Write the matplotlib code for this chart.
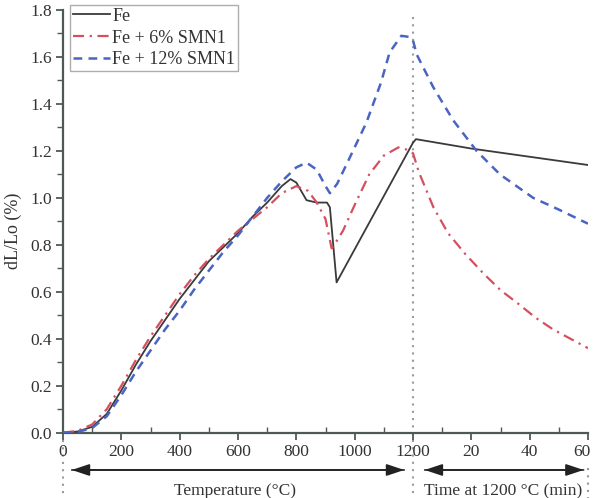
import matplotlib
matplotlib.use("Agg")
import matplotlib.pyplot as plt
import matplotlib.transforms as mtransforms
from matplotlib.ticker import MultipleLocator

plt.rcParams['font.family'] = ['Liberation Serif', 'DejaVu Serif']

# Composite x: temperature (°C) 0..1200, then time at 1200 °C (min) mapped as 1200 + 10*t
fe_temp = [0, 50, 100, 150, 200, 250, 300, 350, 400, 450, 500, 550, 600, 650, 700, 750, 780, 800, 835, 870, 905, 915, 938, 1200]
fe_temp_y = [0, 0.005, 0.025, 0.08, 0.18, 0.29, 0.39, 0.48, 0.57, 0.65, 0.73, 0.79, 0.85, 0.92, 0.98, 1.05, 1.08, 1.065, 0.99, 0.98, 0.98, 0.96, 0.64, 1.235]
fe_time = [1, 20, 40, 60]
fe_time_y = [1.25, 1.21, 1.175, 1.14]

s6_temp = [0, 50, 100, 150, 200, 250, 300, 350, 400, 450, 500, 550, 600, 650, 700, 750, 800, 840, 870, 900, 921, 940, 960, 1000, 1050, 1100, 1150, 1180, 1200]
s6_temp_y = [0, 0.008, 0.035, 0.1, 0.2, 0.31, 0.41, 0.5, 0.59, 0.67, 0.74, 0.8, 0.86, 0.91, 0.96, 1.02, 1.05, 1.03, 0.98, 0.91, 0.785, 0.82, 0.86, 0.97, 1.1, 1.18, 1.215, 1.205, 1.19]
s6_time = [2, 7, 12, 18, 24, 30, 36, 42, 48, 54, 60]
s6_time_y = [1.11, 0.96, 0.85, 0.76, 0.68, 0.607, 0.55, 0.49, 0.44, 0.4, 0.36]

s12_temp = [0, 50, 100, 150, 200, 250, 300, 350, 400, 450, 500, 550, 600, 650, 700, 750, 800, 835, 870, 900, 915, 940, 975, 1040, 1090, 1120, 1160, 1190, 1200]
s12_temp_y = [0, 0.003, 0.02, 0.07, 0.16, 0.26, 0.35, 0.44, 0.52, 0.61, 0.69, 0.77, 0.84, 0.92, 1.0, 1.07, 1.13, 1.15, 1.12, 1.05, 1.02, 1.06, 1.15, 1.32, 1.49, 1.62, 1.69, 1.685, 1.67]
s12_time = [1.3, 7, 13.8, 21.8, 29.8, 41.2, 50, 60]
s12_time_y = [1.61, 1.47, 1.33, 1.2, 1.1, 1.0, 0.95, 0.89]

xtick_pos = [0, 200, 400, 600, 800, 1000, 1200, 1400, 1600, 1800]
xtick_labels = ['0', '200', '400', '600', '800', '1000', '1200', '20', '40', '60']
legend_labels = ['Fe', 'Fe + 6% SMN1', 'Fe + 12% SMN1']


def to_x(temps, times):
    return list(temps) + [1200 + 10 * t for t in times]


fig = plt.figure(figsize=(5.95, 4.98), dpi=100)
ax = fig.add_axes([63 / 595, (498 - 432.7) / 498, 525 / 595, (432.7 - 10) / 498])

spine_col = '#4d5a52'
txt_col = '#333333'
c_fe = '#3a3a3a'
c_6 = '#d4505e'
c_12 = '#4a64c4'

ax.plot(to_x(fe_temp, fe_time), fe_temp_y + fe_time_y, color=c_fe, lw=1.3, label=legend_labels[0], zorder=3)
ax.plot(to_x(s6_temp, s6_time), s6_temp_y + s6_time_y, color=c_6, lw=1.6, ls=(0, (5, 2.5, 1, 2.5)), label=legend_labels[1], zorder=3)
ax.plot(to_x(s12_temp, s12_time), s12_temp_y + s12_time_y, color=c_12, lw=1.8, ls=(0, (3.5, 2.5)), label=legend_labels[2], zorder=3)

ax.set_xlim(0, 1800)
ax.set_ylim(0, 1.8)
ax.set_xticks(xtick_pos)
ax.set_xticklabels(xtick_labels)
ax.xaxis.set_minor_locator(MultipleLocator(100))
ax.yaxis.set_major_locator(MultipleLocator(0.2))
ax.yaxis.set_minor_locator(MultipleLocator(0.1))
ax.yaxis.set_major_formatter(matplotlib.ticker.FormatStrFormatter('%.1f'))

for s in ['top', 'right']:
    ax.spines[s].set_visible(False)
for s in ['left', 'bottom']:
    ax.spines[s].set_color(spine_col)
    ax.spines[s].set_linewidth(1.6)

ax.tick_params(axis='both', which='major', labelsize=12.5, color=spine_col, width=1.3, length=5, pad=3, labelcolor=txt_col)
ax.tick_params(axis='x', which='minor', direction='in', color=spine_col, width=1.0, length=4)
ax.tick_params(axis='y', which='minor', direction='out', color=spine_col, width=1.0, length=4)

# nudge the last tick label ("60") slightly left so it stays inside the figure
last_lbl = ax.get_xticklabels()[-1]
last_lbl.set_transform(last_lbl.get_transform() + mtransforms.ScaledTranslation(-6 / 100, 0, fig.dpi_scale_trans))

# dotted vertical guides
dot_col = '#9a9a9a'
ax.plot([1200, 1200], [1.77, -0.3], color=dot_col, ls=(0, (1, 2.5)), lw=1.5, clip_on=False, zorder=1)
ax.plot([0, 0], [-0.03, -0.3], color=dot_col, ls=(0, (1, 2.5)), lw=1.5, clip_on=False, zorder=1)
ax.plot([1800, 1800], [-0.15, -0.3], color=dot_col, ls=(0, (1, 2.5)), lw=1.5, clip_on=False, zorder=1)

# double-headed arrows
arr_y = -(470 - 432.7) / 235
astyle = dict(arrowstyle='-|>,head_length=0.9,head_width=0.3', color='#222222', lw=1.2,
              mutation_scale=12, shrinkA=0, shrinkB=0)
for a, b in [(30, 1170), (1240, 1785)]:
    ax.annotate('', xy=(a, arr_y), xytext=(b, arr_y), arrowprops=astyle, annotation_clip=False)
    ax.annotate('', xy=(b, arr_y), xytext=(a, arr_y), arrowprops=astyle, annotation_clip=False)

fig.text(235 / 595, (498 - 483) / 498, 'Temperature (°C)', ha='center', va='top', fontsize=12.5, color=txt_col)
fig.text(503 / 595, (498 - 483) / 498, 'Time at 1200 °C (min)', ha='center', va='top', fontsize=12.5, color=txt_col)

fig.text(13 / 595, 0.536, 'dL/Lo (%)', rotation=90, ha='center', va='center', fontsize=13, color=txt_col)

leg = ax.legend(loc='upper left', bbox_to_anchor=(0.013, 1.012), borderaxespad=0, fontsize=13,
                frameon=True, fancybox=False, edgecolor='#999999', handlelength=2.1,
                handletextpad=0.1, borderpad=0.15, labelspacing=0.27)
leg.get_frame().set_linewidth(1.0)
for t in leg.get_texts():
    t.set_color(txt_col)

fig.savefig('out.png', dpi=100)
